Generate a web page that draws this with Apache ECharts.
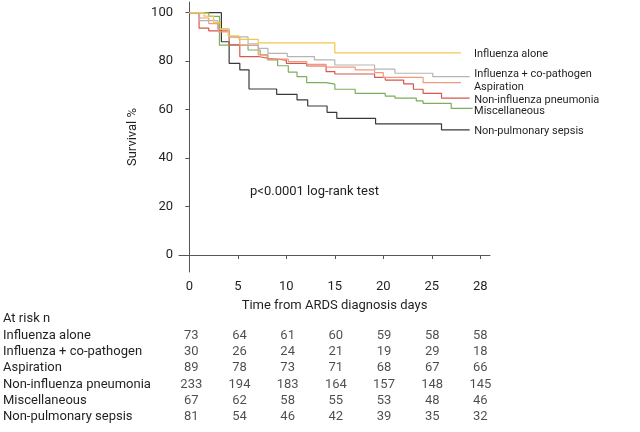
<!DOCTYPE html>
<html>
<head>
<meta charset="utf-8">
<script src="https://cdn.jsdelivr.net/npm/echarts@6/dist/echarts.min.js"></script>
<style>
html,body{margin:0;padding:0;background:#fff;}
#chart{width:640px;height:432px;}
</style>
</head>
<body>
<div id="chart"></div>
<script>
// ---- data ----
var groupNames = ['Influenza alone','Influenza + co-pathogen','Aspiration','Non-influenza pneumonia','Miscellaneous','Non-pulmonary sepsis'];
var tickLabels = ['0','5','10','15','20','25','28'];
var yTicks = [0,20,40,60,80,100];

var influenzaAlone = [[0,100],[1.5,98.6],[2.5,95.9],[3.2,93.2],[4.0,90.4],[5.1,89.0],[7.1,87.5],[15.0,83.4],[28.0,83.4]];
var influenzaCo = [[0,100],[1.05,96.7],[2.9,93.3],[4.1,90.0],[6.05,87.1],[7.1,85.3],[8.1,83.2],[10.1,81.9],[12.9,80.5],[15.0,78.4],[19.1,76.7],[21.2,75.0],[25.1,73.6],[28.9,73.6]];
var aspiration = [[0,100],[1.0,97.8],[2.0,95.5],[3.0,92.1],[4.1,89.9],[5.2,86.5],[7.1,82.6],[8.0,80.8],[10.2,79.8],[12.1,78.7],[14.1,77.5],[17.1,76.4],[19.1,75.3],[20.0,73.3],[24.1,71.1],[28.0,71.1]];
var nonInfluenza = [[0,100],[1.0,93.6],[2.0,92.5],[4.1,86.7],[5.2,81.9],[7.1,81.2],[8.1,80.4],[10.0,79.1],[12.1,78.0],[14.1,75.7],[15.0,74.7],[19.1,73.3],[20.2,72.2],[22.1,70.6],[23.1,68.4],[24.1,66.7],[26.0,64.7],[28.9,64.7]];
var miscellaneous = [[0,100],[2.0,98.5],[3.1,86.6],[6.05,84.6],[7.3,82.6],[8.1,80.5],[9.1,78.1],[10.2,75.5],[11.1,73.6],[12.1,71.1],[14.1,70.5],[15.0,68.4],[17.1,66.7],[20.2,65.6],[21.2,64.7],[23.4,63.6],[24.1,62.6],[27.0,60.5],[29.2,60.5]];
var nonPulmonary = [[0,100],[3.3,88.0],[4.1,79.1],[5.2,76.4],[6.15,68.5],[9.0,66.3],[11.1,64.0],[12.2,61.5],[14.2,58.9],[15.2,56.4],[19.2,54.1],[26.0,51.6],[28.9,51.6]];

var atRiskTitle = 'At risk n';
var atRisk = [
  [73,64,61,60,59,58,58],
  [30,26,24,21,19,29,18],
  [89,78,73,71,68,67,66],
  [233,194,183,164,157,148,145],
  [67,62,58,55,53,48,46],
  [81,54,46,42,39,35,32]
];
var pValueText = 'p<0.0001 log-rank test';

// ---- styles ----
var FONT = 'Roboto';
var TXT = '#231f20';
var AXIS = '#555';
var colors = ['#f2c84b','#b5b5b5','#ef9a7e','#d9574c','#7eae5c','#3a3a3a'];
var labelDist = [13, 4.5, 13, 4.5, 1.5, 4.5];
var labelDy = [1, -2.5, 4.8, 1.8, 3.2, 1.3];
var curves = [influenzaAlone, influenzaCo, aspiration, nonInfluenza, miscellaneous, nonPulmonary];

var chart = echarts.init(document.getElementById('chart'), null, {renderer:'canvas'});

var series = [];
curves.forEach(function(c, i){
  series.push({
    type: 'line', name: groupNames[i], step: 'end', xAxisIndex: 0, yAxisIndex: 0,
    data: c, showSymbol: false, symbol: 'none', silent: true,
    lineStyle: {color: colors[i], width: 1.2}, z: 10 - i,
    endLabel: {show: true, distance: labelDist[i], offset: [0, labelDy[i]],
      formatter: groupNames[i], fontFamily: FONT, fontSize: 11, color: TXT}
  });
});

// at-risk table via second grid
atRisk.forEach(function(row, i){
  series.push({
    type: 'scatter', xAxisIndex: 1, yAxisIndex: 1, symbolSize: 0, silent: true,
    data: row.map(function(v, j){ return [j * 5, groupNames[i], v]; }),
    label: {show: true, position: 'inside', formatter: function(p){ return p.value[2]; },
      fontFamily: FONT, fontSize: 13, color: TXT}
  });
});

var tickPositions = tickLabels.map(function(t, i){ return i * 5; });

var option = {
  animation: false,
  backgroundColor: '#fff',
  textStyle: {fontFamily: FONT},
  grid: [
    {left: 179, right: 150, top: 2, bottom: 160},
    {left: 179, right: 150, top: 310.8, bottom: 6.6}
  ],
  xAxis: [
    {type: 'value', gridIndex: 0, min: -1.07, max: 31,
     name: 'Time from ARDS diagnosis days', nameLocation: 'middle', nameGap: 27,
     nameTextStyle: {fontFamily: FONT, fontSize: 13, color: TXT},
     axisLine: {show: true, lineStyle: {color: AXIS, width: 1}},
     axisTick: {show: true, length: 4, customValues: tickPositions, lineStyle: {color: AXIS}},
     axisLabel: {customValues: tickPositions, fontFamily: FONT, fontSize: 13, color: TXT, margin: 8,
       formatter: function(v){ var k = tickPositions.indexOf(v); return k >= 0 ? tickLabels[k] : ''; }},
     splitLine: {show: false}},
    {type: 'value', gridIndex: 1, min: -1.07, max: 31, show: false}
  ],
  yAxis: [
    {type: 'value', gridIndex: 0, min: -7, max: 104.4,
     name: 'Survival %', nameLocation: 'middle', nameGap: 40, nameRotate: 90,
     nameTextStyle: {fontFamily: FONT, fontSize: 13, color: TXT},
     axisLine: {show: true, lineStyle: {color: AXIS, width: 1}},
     axisTick: {show: true, length: 4, customValues: yTicks, lineStyle: {color: AXIS}},
     axisLabel: {customValues: yTicks, fontFamily: FONT, fontSize: 13, color: TXT, margin: 6},
     splitLine: {show: false}},
    {type: 'category', gridIndex: 1, inverse: true,
     data: [atRiskTitle].concat(groupNames),
     axisLine: {show: false}, axisTick: {show: false}, splitLine: {show: false},
     axisLabel: {interval: 0, align: 'left', margin: 178, fontFamily: FONT, fontSize: 13, color: TXT}}
  ],
  graphic: [
    {type: 'text', left: 250, top: 185, style: {text: pValueText, fontFamily: FONT, fontSize: 13, fill: TXT}}
  ],
  series: series
};
chart.setOption(option);
</script>
</body>
</html>
